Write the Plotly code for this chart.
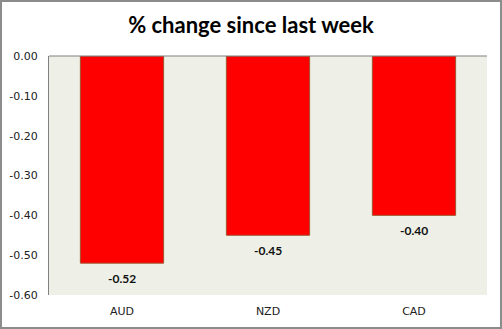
import plotly.graph_objects as go

# Weekly % change by currency
currencies = ["AUD", "NZD", "CAD"]
pct_change = [-0.52, -0.45, -0.40]
y_tick_values = [0.0, -0.1, -0.2, -0.3, -0.4, -0.5, -0.6]
y_tick_labels = ["0.00", "-0.10", "-0.20", "-0.30", "-0.40", "-0.50", "-0.60"]

W, H = 502, 329
ML, MR, MT, MB = 49, 15, 56, 34
pw, ph = W - ML - MR, H - MT - MB

fig = go.Figure(
    go.Bar(
        x=currencies,
        y=pct_change,
        width=0.57,
        marker=dict(color="#FF0000", line=dict(color="#A0522D", width=1)),
    )
)

# value labels beneath each bar end
for cur, val in zip(currencies, pct_change):
    fig.add_annotation(
        x=cur, y=val, text=f"<b>{val:.2f}</b>", showarrow=False,
        yanchor="top", yshift=-6,
        font=dict(family="Lato", size=12, color="#111111"),
    )

fig.update_layout(
    width=W,
    height=H,
    margin=dict(l=ML, r=MR, t=MT, b=MB, autoexpand=False),
    paper_bgcolor="white",
    plot_bgcolor="#EEF0E8",
    showlegend=False,
    title=dict(
        text="<b>% change since last week</b>",
        x=0.5,
        xanchor="center",
        y=1 - 25 / H,
        yanchor="middle",
        font=dict(family="Lato", size=22, color="black"),
    ),
    xaxis=dict(
        automargin=False,
        showgrid=False,
        showline=False,
        ticks="",
        ticklabelstandoff=8,
        tickfont=dict(family="DejaVu Sans", size=11, color="#222222"),
    ),
    yaxis=dict(
        automargin=False,
        range=[-0.6, 0],
        tickvals=y_tick_values,
        ticktext=y_tick_labels,
        showgrid=False,
        zeroline=False,
        showline=True,
        linecolor="#808080",
        linewidth=1,
        ticks="",
        ticklabelstandoff=8,
        tickfont=dict(family="DejaVu Sans", size=11, color="#222222"),
    ),
    shapes=[
        # top edge of plot area
        dict(type="line", xref="paper", yref="paper", x0=0, x1=1, y0=1, y1=1,
             line=dict(color="#808080", width=1)),
        # outer chart frame
        dict(type="rect", xref="paper", yref="paper",
             x0=-(ML - 1) / pw, x1=(W - ML - 1) / pw,
             y0=-(MB - 1) / ph, y1=(H - MB - 1) / ph,
             line=dict(color="#8C8C8C", width=2)),
    ],
)

fig.write_html("out.html")
